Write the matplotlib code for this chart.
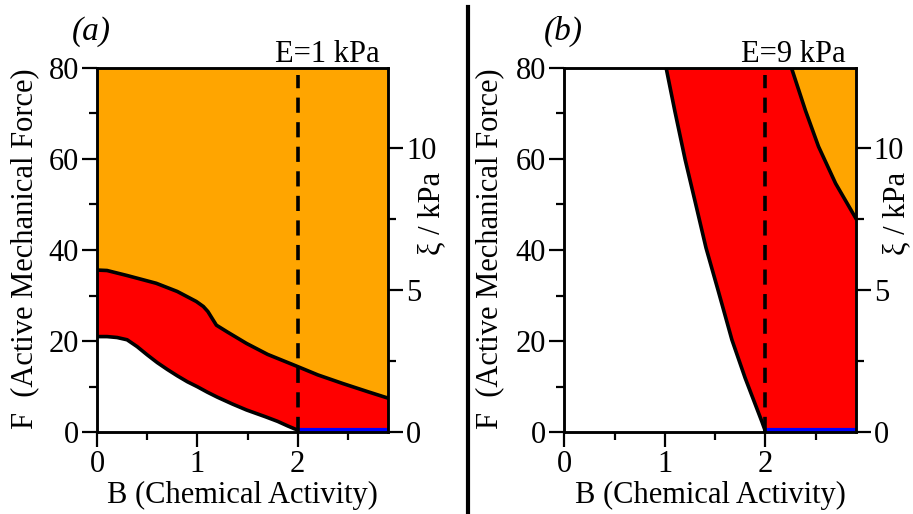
import matplotlib
matplotlib.use("Agg")
import matplotlib.pyplot as plt
from matplotlib.ticker import FixedLocator
from matplotlib.lines import Line2D

plt.rcParams['font.family'] = ['Liberation Serif', 'DejaVu Serif']

# ---------------- data ----------------
B_MAX = 2.9
F_MAX = 80.0
XI_MAX = 12.83  # right axis (kPa) spanning the same range as F 0..80

# Panel (a), E = 1 kPa
a_B_lower = [0.0, 0.1, 0.2, 0.3, 0.4, 0.5, 0.6, 0.7, 0.8, 0.9, 1.0, 1.1, 1.2,
             1.35, 1.49, 1.68, 1.8, 1.9, 1.97, 2.0]
a_F_lower = [21.0, 21.0, 20.8, 20.3, 18.8, 17.0, 15.3, 13.8, 12.4, 11.1, 10.0,
             8.8, 7.7, 6.2, 4.9, 3.4, 2.4, 1.4, 0.75, 0.5]
a_B_upper = [0.0, 0.1, 0.3, 0.59, 0.8, 0.99, 1.06, 1.105, 1.15, 1.19, 1.3, 1.49,
             1.7, 1.98, 2.2, 2.45, 2.7, 2.9]
a_F_upper = [35.6, 35.5, 34.4, 32.7, 30.9, 28.7, 27.6, 26.5, 24.9, 23.5, 22.0,
             19.5, 17.1, 14.6, 12.6, 10.7, 8.9, 7.5]

# Panel (b), E = 9 kPa
b_B_left = [1.013, 1.10, 1.203, 1.30, 1.41, 1.53, 1.668, 1.80, 1.967, 2.0]
b_F_left = [80.0, 70.5, 59.8, 50.8, 40.5, 31.2, 20.3, 11.9, 2.3, 0.3]
b_B_right = [2.26, 2.40, 2.53, 2.70, 2.9]
b_F_right = [80.0, 70.6, 62.7, 54.6, 47.0]

blue_B = [2.0, 2.9]
blue_F = [0.6, 0.6]

dash_B = 2.0

x_major = [0, 1, 2]
x_minor = [0.5, 1.5, 2.5]
y_major = [0, 20, 40, 60, 80]
y_minor = [10, 30, 50, 70]
xi_major = [0, 5, 10]
xi_minor = [2.5, 7.5]

panel_labels = ["(a)", "(b)"]
e_labels = ["E=1 kPa", "E=9 kPa"]

ORANGE = "#FFA500"
RED = "#FF0000"
BLUE = "#0000FF"

FS = 22

fig = plt.figure(figsize=(9.13, 5.14), dpi=100)

W, H = 913, 514
def axrect(l, r, t, b):
    return [l / W, 1 - b / H, (r - l) / W, (b - t) / H]

ax_a = fig.add_axes(axrect(97, 388, 67.7, 432.3))
ax_b = fig.add_axes(axrect(564.3, 855.7, 67.7, 432.3))


def style(ax, left_x, right_x):
    ax.set_xlim(0, B_MAX)
    ax.set_ylim(0, F_MAX)
    ax.xaxis.set_major_locator(FixedLocator(x_major))
    ax.xaxis.set_minor_locator(FixedLocator(x_minor))
    ax.yaxis.set_major_locator(FixedLocator(y_major))
    ax.yaxis.set_minor_locator(FixedLocator(y_minor))
    ax.set_xticklabels([str(v) for v in x_major])
    ax.set_yticklabels([str(v) for v in y_major])
    ax.tick_params(which='major', direction='out', length=11, width=1.6,
                   labelsize=FS, pad=2)
    ax.tick_params(which='minor', direction='out', length=5.5, width=1.6)
    for s in ax.spines.values():
        s.set_linewidth(1.8)
        s.set_zorder(10)
    ax.set_xlabel("B (Chemical Activity)", fontsize=FS)
    ax.xaxis.set_label_coords(0.5, -0.172)
    ax.xaxis.label.set_va('center')
    ax.set_ylabel("F  (Active Mechanical Force)", fontsize=FS)
    ax.yaxis.set_label_coords(left_x, 0.503)
    ax.yaxis.label.set_va('center')
    ax.yaxis.label.set_ha('center')

    tw = ax.twinx()
    tw.set_ylim(0, XI_MAX)
    tw.yaxis.set_major_locator(FixedLocator(xi_major))
    tw.yaxis.set_minor_locator(FixedLocator(xi_minor))
    tw.set_yticklabels([str(v) for v in xi_major])
    tw.tick_params(which='major', direction='out', length=11, width=1.6,
                   labelsize=FS, pad=2)
    tw.tick_params(which='minor', direction='out', length=5.5, width=1.6)
    for s in tw.spines.values():
        s.set_linewidth(1.8)
    tw.set_ylabel("ξ / kPa", fontsize=FS)
    tw.yaxis.set_label_coords(right_x, 0.60)
    tw.yaxis.label.set_va('center')
    tw.yaxis.label.set_ha('center')
    return tw


LW = 2.6

# ---- panel (a)
ax = ax_a
orange_poly = list(zip(a_B_upper, a_F_upper)) + [(B_MAX, F_MAX), (0, F_MAX)]
ax.fill(*zip(*orange_poly), color=ORANGE, lw=0, zorder=1)
red_poly = list(zip(a_B_upper, a_F_upper)) + [(B_MAX, 0)] + \
    list(zip(a_B_lower, a_F_lower))[::-1]
ax.fill(*zip(*red_poly), color=RED, lw=0, zorder=1)
ax.plot(a_B_upper, a_F_upper, color='k', lw=LW, zorder=3)
ax.plot(a_B_lower, a_F_lower, color='k', lw=LW, zorder=3)
ax.plot(blue_B, blue_F, color=BLUE, lw=3.0, zorder=4, solid_capstyle='butt')
ax.plot([dash_B, dash_B], [0, F_MAX - 1.5], color='k', lw=2.6,
        linestyle=(0, (4.2, 2.6)), zorder=5)
style(ax, -0.247, 1.15)

# ---- panel (b)
ax = ax_b
red_poly = list(zip(b_B_left, b_F_left)) + [(B_MAX, 0)] + \
    list(zip(b_B_right, b_F_right))[::-1]
ax.fill(*zip(*red_poly), color=RED, lw=0, zorder=1)
orange_poly = list(zip(b_B_right, b_F_right)) + [(B_MAX, F_MAX)]
ax.fill(*zip(*orange_poly), color=ORANGE, lw=0, zorder=1)
ax.plot(b_B_left, b_F_left, color='k', lw=LW, zorder=3)
ax.plot(b_B_right, b_F_right, color='k', lw=LW, zorder=3)
ax.plot(blue_B, blue_F, color=BLUE, lw=3.0, zorder=4, solid_capstyle='butt')
ax.plot([dash_B, dash_B], [0, F_MAX - 1.5], color='k', lw=2.6,
        linestyle=(0, (4.2, 2.6)), zorder=5)
style(ax, -0.255, 1.14)

# panel labels and E labels
fig.text(72 / W, 1 - 40 / H, panel_labels[0], fontsize=FS + 2, style='italic',
         ha='left', va='baseline')
fig.text(544 / W, 1 - 40 / H, panel_labels[1], fontsize=FS + 2, style='italic',
         ha='left', va='baseline')
fig.text(380 / W, 1 - 62 / H, e_labels[0], fontsize=FS, ha='right', va='baseline')
fig.text(846 / W, 1 - 62 / H, e_labels[1], fontsize=FS, ha='right', va='baseline')

# separator line
fig.add_artist(Line2D([468 / W, 468 / W], [0, 1 - 7 / H], color='k', lw=3,
                      transform=fig.transFigure))

fig.savefig("out.png", dpi=100)
